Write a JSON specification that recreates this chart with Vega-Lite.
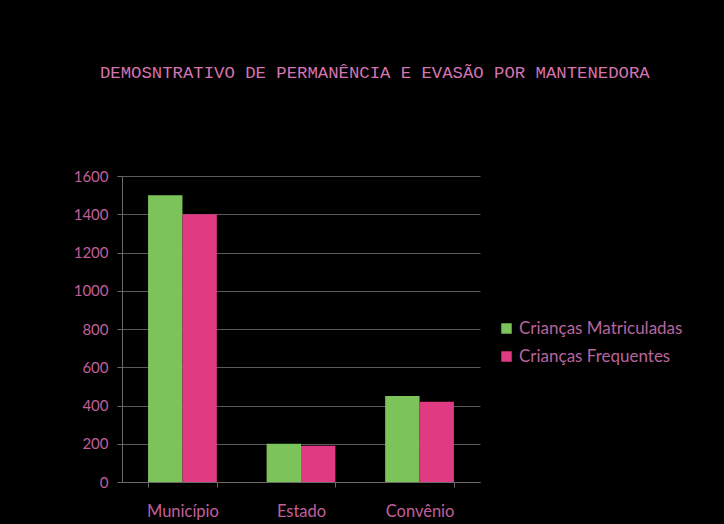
{
  "$schema": "https://vega.github.io/schema/vega-lite/v6.json",
  "width": 358,
  "height": 306,
  "autosize": {"type": "none"},
  "padding": {"left": 122, "top": 176, "right": 244, "bottom": 42},
  "background": "#000000",
  "title": {
    "text": "DEMOSNTRATIVO DE PERMANÊNCIA E EVASÃO POR MANTENEDORA",
    "anchor": "start",
    "frame": "group",
    "dx": -22,
    "offset": 88,
    "font": "Liberation Mono",
    "fontSize": 17.3,
    "fontWeight": "normal",
    "color": "#d574b0"
  },
  "data": {
    "values": [
      {"mantenedora": "Município", "serie": "Crianças Matriculadas", "valor": 1500},
      {"mantenedora": "Município", "serie": "Crianças Frequentes", "valor": 1400},
      {"mantenedora": "Estado", "serie": "Crianças Matriculadas", "valor": 200},
      {"mantenedora": "Estado", "serie": "Crianças Frequentes", "valor": 190},
      {"mantenedora": "Convênio", "serie": "Crianças Matriculadas", "valor": 450},
      {"mantenedora": "Convênio", "serie": "Crianças Frequentes", "valor": 420}
    ]
  },
  "mark": {"type": "bar"},
  "encoding": {
    "x": {
      "field": "mantenedora",
      "type": "nominal",
      "sort": ["Município", "Estado", "Convênio"],
      "scale": {"paddingInner": 0.42, "paddingOuter": 0.22},
      "axis": {
        "title": null,
        "labelAngle": 0,
        "labelColor": "#c25f9a",
        "labelFont": "Lato",
        "labelFontSize": 16.5,
        "labelPadding": 16,
        "domainColor": "#6a6a6a",
        "tickColor": "#6a6a6a",
        "tickBand": "extent",
        "tickSize": 5,
        "grid": false
      }
    },
    "xOffset": {
      "field": "serie",
      "sort": ["Crianças Matriculadas", "Crianças Frequentes"]
    },
    "y": {
      "field": "valor",
      "type": "quantitative",
      "scale": {"domain": [0, 1600]},
      "axis": {
        "title": null,
        "format": "d",
        "values": [0, 200, 400, 600, 800, 1000, 1200, 1400, 1600],
        "labelColor": "#c25f9a",
        "labelFont": "Lato",
        "labelFontSize": 15,
        "labelPadding": 9,
        "domainColor": "#6a6a6a",
        "tickColor": "#6a6a6a",
        "tickSize": 5,
        "gridColor": "#5a5a5a",
        "gridWidth": 1
      }
    },
    "color": {
      "field": "serie",
      "type": "nominal",
      "sort": ["Crianças Matriculadas", "Crianças Frequentes"],
      "scale": {
        "domain": ["Crianças Matriculadas", "Crianças Frequentes"],
        "range": ["#7cc45a", "#df3a82"]
      },
      "legend": {
        "title": null,
        "orient": "none",
        "legendX": 376,
        "legendY": 144,
        "symbolType": "square",
        "symbolSize": 110,
        "symbolStrokeWidth": 0,
        "labelColor": "#b8649e",
        "labelFont": "Lato",
        "labelFontSize": 17,
        "labelLimit": 400,
        "rowPadding": 10,
        "labelOffset": 4
      }
    }
  },
  "config": {
    "view": {"stroke": null}
  }
}
